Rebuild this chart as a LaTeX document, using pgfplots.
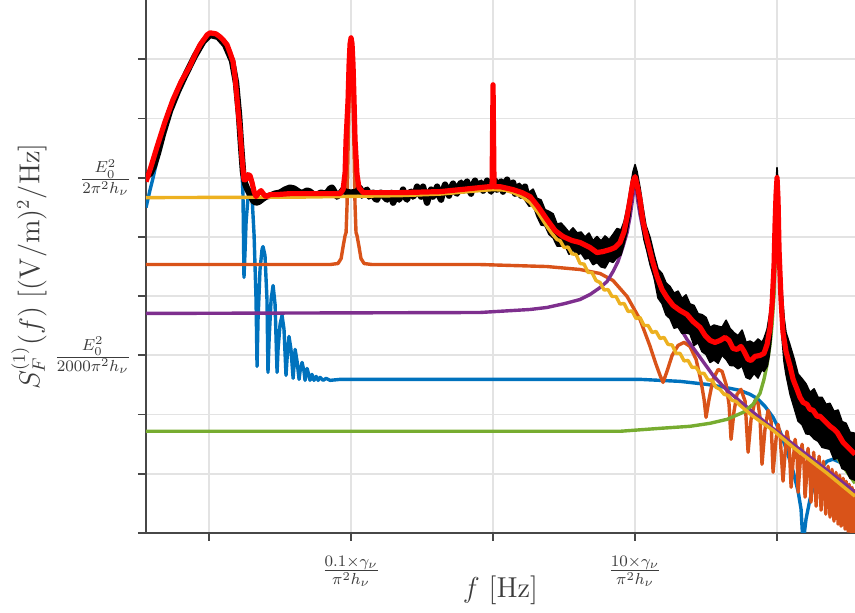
\documentclass[border=0pt]{standalone}
\usepackage{pgfplots}
\pgfplotsset{compat=1.18}

\definecolor{mblue}{HTML}{0072BD}
\definecolor{morange}{HTML}{D95319}
\definecolor{myellow}{HTML}{EDB120}
\definecolor{mpurple}{HTML}{7E2F8E}
\definecolor{mgreen}{HTML}{77AC30}
\definecolor{axgray}{HTML}{262626}

\begin{document}
\begin{tikzpicture}
\begin{axis}[
  name=ax,
  scale only axis, width=354.5pt, height=266.5pt,
  xmin=-2.444, xmax=2.549, ymin=-6, ymax=3,
  axis x line=bottom, axis y line=left,
  axis line style={-, draw=axgray!85, line width=0.9pt},
  tick align=outside, major tick length=4pt,
  tick style={draw=axgray!85, line width=0.9pt},
  xtick={-2,-1,0,1,2},
  xticklabels={,$\frac{0.1\times\gamma_\nu}{\pi^2 h_\nu}$,,$\frac{10\times\gamma_\nu}{\pi^2 h_\nu}$,},
  ytick={-6,-5,-4,-3,-2,-1,0,1,2},
  yticklabels={,,,$\frac{E_0^2}{2000\pi^2 h_\nu}$,,,$\frac{E_0^2}{2\pi^2 h_\nu}$,,},
  ticklabel style={font=\fontsize{12}{14}\selectfont, text=axgray!90},
  xticklabel style={yshift=-4pt},
  grid=major, major grid style={draw=black!11, line width=0.9pt},
  xlabel={$f~[\mathrm{Hz}]$},
  ylabel={$S_F^{(1)}(f)~[(\mathrm{V/m})^2/\mathrm{Hz}]$},
  xlabel style={at={(axis description cs:0.5,-0.107)}, anchor=center,
    font=\fontsize{13.5}{16}\selectfont, text=axgray!90},
  ylabel style={at={(axis description cs:-0.165,0.5)}, anchor=center,
    font=\fontsize{13.5}{16}\selectfont, text=axgray!90},
  clip=true,
  every axis plot/.append style={line join=round},
]

% first-lobe component
\addplot[mblue, line width=1.7pt] coordinates {
(-2.444,-0.506) (-2.415,-0.202) (-2.394,0) (-2.366,0.304) (-2.310,0.894)
(-2.254,1.315) (-2.197,1.619) (-2.134,1.906) (-2.099,2.074) (-2.063,2.243)
(-2.028,2.361) (-1.993,2.428) (-1.958,2.420) (-1.937,2.361) (-1.887,2.226)
(-1.852,2.074) (-1.831,1.956) (-1.817,1.703) (-1.796,1.180)
(-1.775,0.506) (-1.761,-0.287) (-1.754,-1.686) (-1.746,-1.214) (-1.739,-0.742)
(-1.725,-0.320) (-1.711,-0.202) (-1.697,-0.337) (-1.683,-0.961) (-1.669,-2.057)
(-1.662,-3.187) (-1.655,-2.395) (-1.641,-1.551) (-1.627,-1.214) (-1.620,-1.164)
(-1.606,-1.315) (-1.592,-2.057) (-1.585,-3.288) (-1.577,-2.732) (-1.563,-2.057)
(-1.549,-1.821) (-1.535,-2.142) (-1.521,-3.288) (-1.514,-2.900) (-1.500,-2.479)
(-1.486,-2.327) (-1.472,-2.563) (-1.458,-3.339) (-1.451,-3.069) (-1.437,-2.681)
(-1.423,-2.900) (-1.408,-3.389) (-1.401,-3.153) (-1.394,-2.900) (-1.380,-3.103)
(-1.366,-3.406) (-1.359,-3.271) (-1.345,-3.120) (-1.331,-3.271) (-1.324,-3.423)
(-1.317,-3.322) (-1.310,-3.221) (-1.296,-3.339) (-1.289,-3.423) (-1.275,-3.322)
(-1.261,-3.423) (-1.246,-3.356) (-1.232,-3.423) (-1.218,-3.373) (-1.197,-3.423)
(-1.176,-3.389) (-1.148,-3.423) (-1.077,-3.406) (0.049,-3.406) (1.035,-3.406)
(1.317,-3.440) (1.507,-3.491) (1.634,-3.541) (1.739,-3.592) (1.810,-3.659)
(1.859,-3.727) (1.915,-3.862) (1.972,-4.047) (2.021,-4.283) (2.070,-4.620)
(2.113,-4.958) (2.148,-5.295) (2.169,-5.598) (2.183,-6.189) (2.204,-5.767)
(2.232,-5.430) (2.268,-5.126) (2.303,-4.924) (2.352,-4.789) (2.394,-4.755)
(2.444,-4.806) (2.500,-4.924) (2.549,-5.059)
};

% component with the narrow line at 0.1
\addplot[morange, line width=1.7pt] coordinates {
(-2.444,-1.467) (-1.148,-1.467) (-1.092,-1.450) (-1.070,-1.366) (-1.056,-1.164)
(-1.042,-0.978) (-1.035,-0.927) (-1.028,-0.455) (-1.021,0.472) (-1.014,1.315)
(-1.007,1.990) (-1.000,2.293) (-0.993,1.990) (-0.986,1.315) (-0.979,0.472)
(-0.972,-0.455) (-0.965,-0.927) (-0.958,-0.978) (-0.944,-1.164) (-0.930,-1.366)
(-0.908,-1.450) (-0.852,-1.467) (-0.092,-1.467) (0.380,-1.501) (0.613,-1.551)
(0.754,-1.619) (0.845,-1.737) (0.944,-2.007) (1.035,-2.395) (1.106,-2.850)
(1.148,-3.153) (1.176,-3.339) (1.197,-3.457) (1.225,-3.271) (1.261,-3.002)
(1.303,-2.833) (1.345,-2.782) (1.387,-2.850) (1.430,-3.069) (1.465,-3.440)
(1.486,-3.744) (1.500,-4.047) (1.521,-3.744) (1.549,-3.406) (1.585,-3.238)
(1.613,-3.271) (1.641,-3.491) (1.662,-3.828) (1.676,-4.418) (1.697,-3.946)
(1.718,-3.659) (1.746,-3.575) (1.775,-3.777) (1.796,-4.637) (1.817,-4.081)
(1.845,-3.760) (1.866,-3.811) (1.880,-4.047) (1.894,-4.840) (1.915,-4.249)
(1.937,-3.929) (1.958,-4.115) (1.972,-4.975) (1.993,-4.418) (2.007,-4.165)
(2.021,-4.334) (2.042,-5.126) (2.056,-4.671) (2.070,-4.283) (2.085,-4.502)
(2.099,-5.228) (2.113,-4.789) (2.127,-4.418) (2.141,-4.671) (2.148,-5.312)
(2.162,-4.840) (2.176,-4.502) (2.190,-4.840) (2.197,-5.396) (2.211,-4.958)
(2.218,-4.570) (2.232,-4.958) (2.239,-5.480) (2.250,-5.025) (2.258,-4.637)
(2.268,-5.059) (2.275,-5.548) (2.285,-5.126) (2.296,-4.705) (2.303,-5.126)
(2.310,-5.615) (2.319,-5.177) (2.327,-4.789) (2.335,-5.211) (2.343,-5.683)
(2.351,-5.261) (2.359,-4.873) (2.366,-5.295) (2.373,-5.733) (2.380,-5.329)
(2.387,-4.924) (2.394,-5.362) (2.401,-5.801) (2.408,-5.396) (2.415,-4.975)
(2.423,-5.413) (2.430,-5.851) (2.440,-5.025) (2.451,-5.885) (2.465,-5.076)
(2.479,-5.936) (2.486,-5.126) (2.500,-5.969) (2.507,-5.177) (2.521,-6.003)
(2.528,-5.228) (2.542,-6.037) (2.549,-5.261)
};

% resonance at 10
\addplot[mpurple, line width=1.7pt] coordinates {
(-2.444,-2.293) (-0.092,-2.277) (0.261,-2.226) (0.380,-2.192) (0.507,-2.125)
(0.613,-2.057) (0.683,-1.973) (0.754,-1.855) (0.803,-1.754) (0.845,-1.585)
(0.880,-1.416) (0.915,-1.164) (0.944,-0.927) (0.965,-0.658) (0.979,-0.422)
(0.993,-0.169) (1.000,-0.051) (1.007,-0.169) (1.021,-0.422) (1.035,-0.624)
(1.056,-0.877) (1.085,-1.164) (1.106,-1.383) (1.141,-1.686) (1.176,-1.939)
(1.225,-2.158) (1.268,-2.327) (1.366,-2.732) (1.458,-3.035) (1.549,-3.339)
(1.648,-3.592) (1.739,-3.777) (1.831,-3.963) (1.951,-4.199) (2.113,-4.502)
(2.352,-4.941) (2.549,-5.312)
};

% resonance at 100
\addplot[mgreen, line width=1.7pt] coordinates {
(-2.444,-4.283) (0.894,-4.283) (1.176,-4.233) (1.387,-4.199) (1.528,-4.148)
(1.648,-4.081) (1.761,-3.963) (1.831,-3.828) (1.880,-3.642) (1.908,-3.406)
(1.930,-3.153) (1.951,-2.816) (1.965,-2.479) (1.979,-1.973) (1.986,-1.467)
(1.993,-0.793) (2.000,-0.034) (2.007,-0.742) (2.014,-1.298) (2.028,-1.973)
(2.049,-2.563) (2.070,-2.900) (2.113,-3.356) (2.162,-3.676) (2.232,-4.030)
(2.289,-4.249) (2.352,-4.469) (2.408,-4.671) (2.465,-4.873) (2.549,-5.160)
};

% measured spectrum, low-frequency part
\addplot[black, line width=3.2pt] coordinates {
(-2.444,0.017) (-2.415,0.067) (-2.387,0.202) (-2.359,0.422) (-2.324,0.742)
(-2.275,1.130) (-2.218,1.467) (-2.162,1.754) (-2.099,2.057) (-2.042,2.293)
(-1.993,2.411) (-1.937,2.378) (-1.887,2.243) (-1.838,1.973) (-1.810,1.602)
(-1.789,1.062) (-1.775,0.556) (-1.761,0.101) (-1.746,-0.101) (-1.732,-0.185)
(-1.711,-0.287) (-1.690,-0.388) (-1.669,-0.422) (-1.648,-0.405) (-1.620,-0.354)
(-1.599,-0.320) (-1.570,-0.304) (-1.535,-0.270) (-1.500,-0.253) (-1.465,-0.202)
(-1.430,-0.169) (-1.401,-0.185) (-1.380,-0.219) (-1.359,-0.253) (-1.338,-0.253)
(-1.310,-0.219) (-1.289,-0.236) (-1.261,-0.287) (-1.239,-0.287) (-1.211,-0.253)
(-1.190,-0.270) (-1.169,-0.253) (-1.148,-0.185) (-1.134,-0.169) (-1.113,-0.253)
(-1.099,-0.320) (-1.077,-0.270) (-1.056,-0.202) (-1.042,-0.236) (-1.000,-0.253)
(-0.958,-0.236) (-0.937,-0.169) (-0.923,-0.304)
(-0.901,-0.236) (-0.887,-0.202) (-0.873,-0.320) (-0.859,-0.270) (-0.845,-0.253)
(-0.831,-0.354) (-0.817,-0.371) (-0.803,-0.270) (-0.789,-0.253) (-0.768,-0.320)
(-0.746,-0.371) (-0.732,-0.287) (-0.718,-0.253) (-0.704,-0.422) (-0.690,-0.354)
(-0.676,-0.320) (-0.662,-0.371) (-0.648,-0.304) (-0.634,-0.202) (-0.620,-0.320)
(-0.606,-0.371) (-0.592,-0.270) (-0.577,-0.236) (-0.563,-0.320) (-0.549,-0.270)
(-0.535,-0.152) (-0.521,-0.253) (-0.507,-0.320) (-0.493,-0.152) (-0.479,-0.287)
(-0.465,-0.422) (-0.451,-0.304) (-0.437,-0.202) (-0.423,-0.320) (-0.408,-0.253)
(-0.394,-0.152) (-0.380,-0.304) (-0.366,-0.371) (-0.352,-0.219) (-0.338,-0.118)
(-0.324,-0.202) (-0.310,-0.304) (-0.296,-0.169) (-0.282,-0.101) (-0.268,-0.236)
(-0.254,-0.270) (-0.239,-0.135) (-0.225,-0.084) (-0.211,-0.219) (-0.197,-0.135)
(-0.183,-0.067) (-0.169,-0.202) (-0.155,-0.270) (-0.141,-0.118) (-0.127,-0.051)
(-0.113,-0.185) (-0.099,-0.135) (-0.085,-0.084) (-0.070,-0.219) (-0.056,-0.152)
(-0.042,-0.051) (-0.028,-0.169) (-0.014,-0.236) (0,-0.135) (0.014,-0.051)
(0.028,-0.202) (0.042,-0.135) (0.056,-0.067) (0.070,-0.236) (0.085,-0.118)
(0.099,-0.034) (0.113,-0.202) (0.127,-0.152) (0.141,-0.084) (0.155,-0.270)
(0.169,-0.185) (0.183,-0.135) (0.197,-0.304) (0.211,-0.202) (0.225,-0.152)
(0.239,-0.337)
};

% measured spectrum, noise envelope above 1
\addplot[black, fill=black, line width=0.8pt] coordinates {
(0.225,-0.126) (0.254,-0.245) (0.282,-0.194) (0.310,-0.351) (0.338,-0.376)
(0.366,-0.541) (0.394,-0.570) (0.423,-0.612) (0.451,-0.784) (0.479,-0.767)
(0.507,-0.841) (0.535,-0.922) (0.563,-0.848) (0.592,-0.933) (0.620,-0.919)
(0.648,-1.003) (0.676,-0.936) (0.704,-1.064) (0.732,-0.995) (0.761,-1.067)
(0.789,-0.985) (0.817,-1.051) (0.845,-0.958) (0.873,-0.860) (0.901,-0.882)
(0.923,-0.742) (0.944,-0.506) (0.965,-0.202) (0.986,0.101) (1.000,0.219)
(1.014,0.101) (1.035,-0.169) (1.056,-0.506) (1.077,-0.809) (1.106,-1.012)
(1.134,-1.295) (1.162,-1.545) (1.190,-1.619) (1.218,-1.777) (1.246,-1.838)
(1.275,-1.951) (1.303,-1.916) (1.331,-2.042) (1.359,-1.980) (1.387,-2.133)
(1.415,-2.158) (1.444,-2.298) (1.472,-2.314) (1.500,-2.361) (1.528,-2.529)
(1.556,-2.489) (1.585,-2.509) (1.613,-2.526) (1.641,-2.408) (1.669,-2.546)
(1.697,-2.619) (1.725,-2.669) (1.754,-2.575) (1.782,-2.782) (1.810,-2.760)
(1.838,-2.799) (1.866,-2.725) (1.894,-2.782) (1.908,-2.715) (1.930,-2.563)
(1.951,-2.260) (1.965,-1.889) (1.979,-1.214) (1.986,-0.624) (1.993,-0.118)
(2.000,0.169) (2.007,-0.118) (2.014,-0.742) (2.021,-1.298) (2.035,-1.889)
(2.049,-2.361) (2.063,-2.614) (2.092,-2.833) (2.120,-3.057) (2.148,-3.317)
(2.176,-3.395) (2.204,-3.482) (2.232,-3.626) (2.261,-3.567) (2.289,-3.710)
(2.317,-3.710) (2.345,-3.828) (2.373,-3.811) (2.401,-3.946) (2.430,-3.924)
(2.458,-4.120) (2.486,-4.148) (2.514,-4.300) (2.549,-4.317) (2.563,-4.334)
(2.563,-5.109) (2.549,-5.109) (2.514,-5.076) (2.486,-4.941) (2.458,-4.912)
(2.430,-4.733) (2.401,-4.755) (2.373,-4.587) (2.345,-4.570) (2.317,-4.553)
(2.289,-4.452) (2.261,-4.410) (2.232,-4.334) (2.204,-4.325) (2.176,-4.170)
(2.148,-4.110) (2.120,-3.884) (2.092,-3.659) (2.063,-3.322) (2.049,-3.103)
(2.035,-2.698) (2.021,-2.057) (2.014,-1.467) (2.007,-0.624) (2.000,-0.202)
(1.993,-0.506) (1.986,-1.130) (1.979,-1.636) (1.972,-2.142) (1.958,-2.732)
(1.944,-3.018) (1.930,-3.187) (1.908,-3.271) (1.894,-3.238) (1.866,-3.383)
(1.838,-3.305) (1.810,-3.401) (1.782,-3.373) (1.754,-3.182) (1.725,-3.226)
(1.697,-3.175) (1.669,-3.170) (1.641,-3.066) (1.613,-2.998) (1.585,-3.133)
(1.556,-3.079) (1.528,-3.120) (1.500,-2.985) (1.472,-2.938) (1.444,-2.787)
(1.415,-2.833) (1.387,-2.639) (1.359,-2.621) (1.331,-2.632) (1.303,-2.523)
(1.275,-2.541) (1.246,-2.378) (1.218,-2.317) (1.190,-2.125) (1.162,-2.034)
(1.134,-1.683) (1.106,-1.467) (1.085,-1.248) (1.063,-1.046) (1.042,-0.708)
(1.021,-0.371) (1.007,-0.169) (1.000,-0.101) (0.993,-0.135) (0.979,-0.337)
(0.965,-0.624) (0.944,-0.911) (0.923,-1.113) (0.901,-1.304) (0.873,-1.349)
(0.845,-1.430) (0.817,-1.405) (0.789,-1.524) (0.761,-1.506) (0.732,-1.433)
(0.704,-1.469) (0.676,-1.357) (0.648,-1.374) (0.620,-1.273) (0.592,-1.304)
(0.563,-1.219) (0.535,-1.293) (0.507,-1.145) (0.479,-1.155) (0.451,-1.155)
(0.423,-1.017) (0.394,-0.958) (0.366,-0.811) (0.338,-0.798) (0.310,-0.654)
(0.282,-0.464) (0.254,-0.481) (0.225,-0.379)
} -- cycle;

% broadband component
\addplot[myellow, line width=1.7pt] coordinates {
(-2.444,-0.337) (-1.359,-0.329) (-0.655,-0.304) (-0.373,-0.278) (-0.092,-0.219)
(0,-0.202) (0.085,-0.211) (0.141,-0.253) (0.204,-0.320) (0.261,-0.422)
(0.317,-0.590) (0.380,-0.826) (0.415,-0.944) (0.451,-1.046) (0.472,-1.062)
(0.500,-1.180) (0.528,-1.172) (0.556,-1.287) (0.585,-1.298) (0.613,-1.450)
(0.641,-1.460) (0.669,-1.602) (0.697,-1.602) (0.725,-1.737) (0.754,-1.771)
(0.782,-1.897) (0.810,-1.889) (0.838,-2.007) (0.866,-2.007) (0.894,-2.133)
(0.923,-2.125) (0.951,-2.260) (0.979,-2.251) (1.007,-2.378) (1.035,-2.361)
(1.063,-2.496) (1.092,-2.496) (1.120,-2.614) (1.148,-2.597) (1.176,-2.715)
(1.204,-2.698) (1.232,-2.816) (1.261,-2.825) (1.289,-2.968) (1.317,-2.968)
(1.345,-3.094) (1.373,-3.086) (1.401,-3.204) (1.430,-3.204) (1.458,-3.305)
(1.486,-3.305) (1.514,-3.415) (1.542,-3.423) (1.570,-3.541) (1.599,-3.575)
(1.627,-3.659) (1.655,-3.676) (1.683,-3.760) (1.711,-3.777) (1.739,-3.845)
(1.831,-4.030) (1.972,-4.266) (2.113,-4.553) (2.352,-4.991) (2.549,-5.379)
};

% total fit
\addplot[red, line width=2.6pt] coordinates {
(-2.444,-0.067) (-2.415,0.135) (-2.366,0.523) (-2.310,0.944) (-2.254,1.315)
(-2.197,1.619) (-2.134,1.889) (-2.099,2.074) (-2.063,2.243) (-2.028,2.361)
(-2.014,2.411) (-1.993,2.445) (-1.972,2.437) (-1.951,2.428) (-1.923,2.378)
(-1.901,2.327) (-1.873,2.243) (-1.852,2.108) (-1.831,1.956) (-1.817,1.703)
(-1.796,1.147)
(-1.782,0.809) (-1.768,0.337) (-1.754,-0.034) (-1.739,-0.034) (-1.725,0.051)
(-1.711,0.034) (-1.697,-0.084) (-1.683,-0.236) (-1.669,-0.320) (-1.655,-0.270)
(-1.634,-0.219) (-1.613,-0.287) (-1.599,-0.320) (-1.570,-0.287) (-1.528,-0.287)
(-1.430,-0.270) (-1.289,-0.270) (-1.077,-0.270) (-1.056,-0.202) (-1.042,0.084)
(-1.035,0.641) (-1.021,1.315) (-1.014,1.906) (-1.007,2.260) (-1.000,2.361)
(-0.993,2.260) (-0.986,1.906) (-0.979,1.315) (-0.972,0.641) (-0.958,0.051)
(-0.944,-0.169) (-0.915,-0.253) (-0.655,-0.253) (-0.373,-0.236) (-0.162,-0.185)
(-0.028,-0.152) (-0.007,-0.152) (0,1.568) (0.007,-0.152) (0.049,-0.152)
(0.141,-0.202) (0.204,-0.253) (0.261,-0.320) (0.317,-0.489) (0.380,-0.708)
(0.437,-0.894) (0.493,-0.995) (0.556,-1.062) (0.613,-1.096) (0.683,-1.180)
(0.732,-1.265) (0.775,-1.248) (0.824,-1.214) (0.859,-1.180) (0.894,-1.096)
(0.923,-0.911) (0.944,-0.658) (0.965,-0.371) (0.986,-0.067) (1.000,0.017)
(1.014,-0.118) (1.035,-0.371) (1.056,-0.742) (1.085,-1.046) (1.120,-1.383)
(1.155,-1.669) (1.190,-1.889) (1.225,-2.024) (1.268,-2.158) (1.317,-2.243)
(1.366,-2.310) (1.408,-2.428) (1.458,-2.529) (1.493,-2.664) (1.528,-2.749)
(1.563,-2.782) (1.599,-2.749) (1.634,-2.698) (1.662,-2.749) (1.690,-2.884)
(1.718,-2.900) (1.746,-2.850) (1.768,-2.934) (1.796,-3.069) (1.817,-3.086)
(1.845,-3.018) (1.880,-3.002) (1.908,-2.968) (1.930,-2.816) (1.951,-2.529)
(1.965,-2.142) (1.979,-1.467) (1.986,-0.793) (1.993,-0.287) (2.000,0)
(2.007,-0.371) (2.014,-1.214) (2.028,-2.057) (2.042,-2.614) (2.063,-2.934)
(2.092,-3.187) (2.113,-3.406) (2.141,-3.575) (2.162,-3.710) (2.183,-3.794)
(2.211,-3.828) (2.232,-3.912) (2.254,-3.929) (2.282,-4.030) (2.303,-4.030)
(2.324,-4.081) (2.352,-4.148) (2.373,-4.199) (2.401,-4.249) (2.423,-4.300)
(2.444,-4.384) (2.465,-4.469) (2.493,-4.536) (2.514,-4.587) (2.549,-4.671)
};
\end{axis}
\pgfresetboundingbox
\path (ax.south west) ++(-73pt,-40pt) rectangle (ax.north east);
\end{tikzpicture}
\end{document}
